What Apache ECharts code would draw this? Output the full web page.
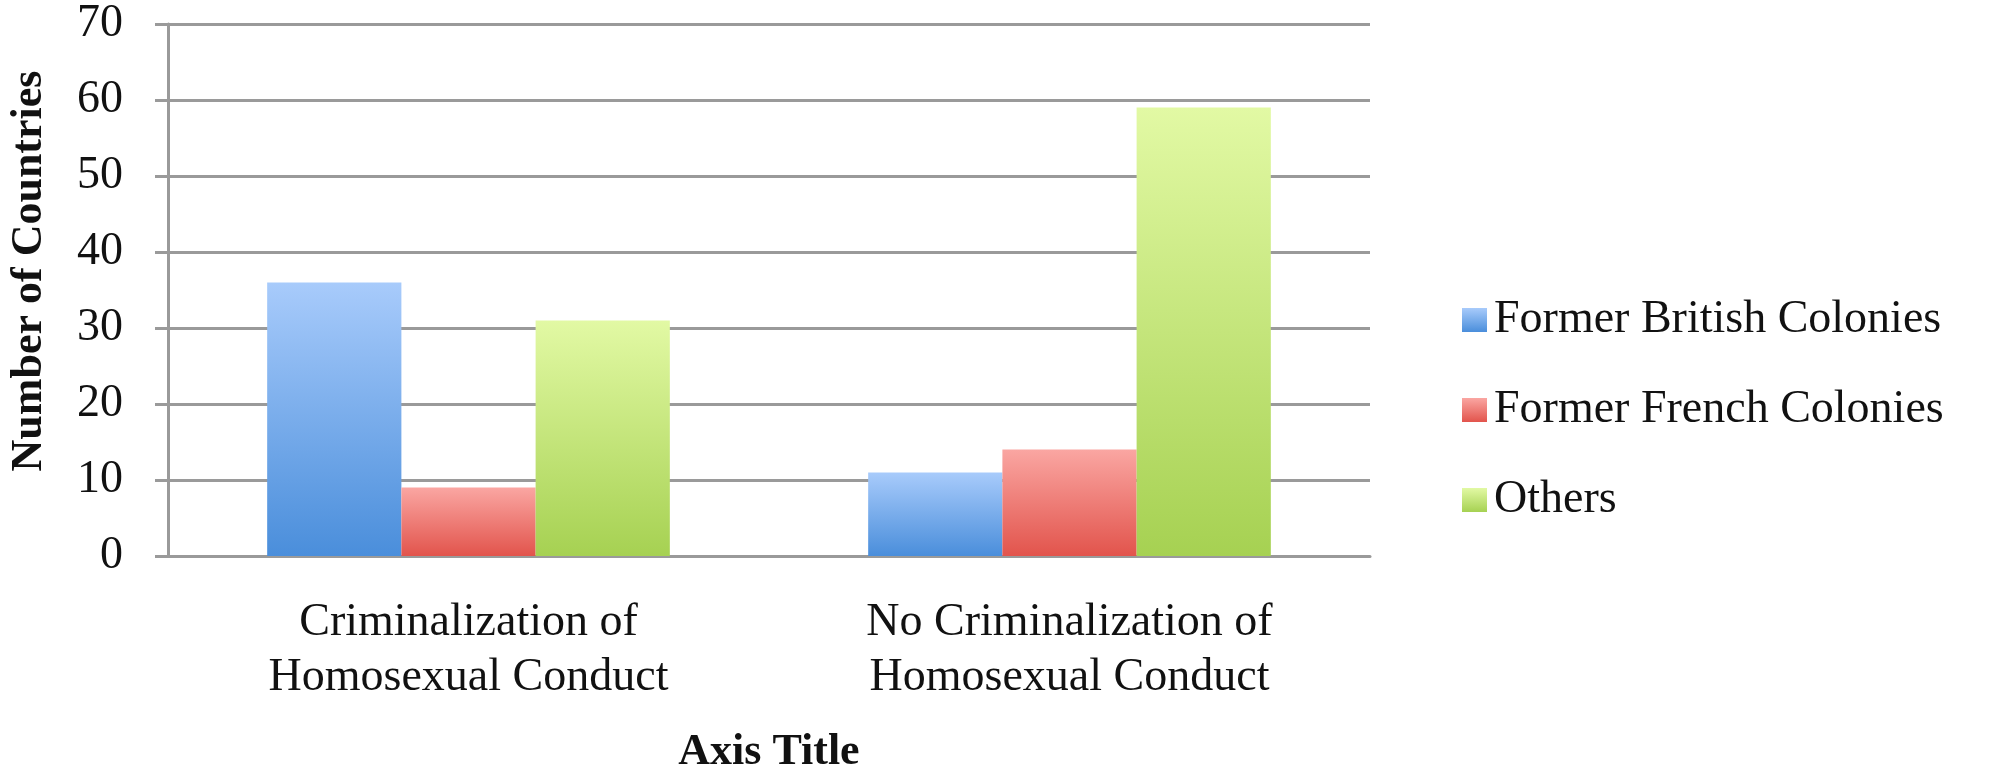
<!DOCTYPE html>
<html>
<head>
<meta charset="utf-8">
<script src="https://cdn.jsdelivr.net/npm/echarts@6/dist/echarts.min.js"></script>
<style>
html,body{margin:0;padding:0;background:#fff;}
#chart{width:1990px;height:765px;}
</style>
</head>
<body>
<div id="chart"></div>
<script>
// 数据
const categories = ['Criminalization of\nHomosexual Conduct', 'No Criminalization of\nHomosexual Conduct'];
const seriesNames = ['Former British Colonies', 'Former French Colonies', 'Others'];
const british = [36, 11];
const french = [9, 14];
const others = [31, 59];
const yTicks = [0, 10, 20, 30, 40, 50, 60, 70];

const font = '"Liberation Serif", "DejaVu Serif", serif';

function grad(top, bottom) {
    return new echarts.graphic.LinearGradient(0, 0, 0, 1, [
        { offset: 0, color: top },
        { offset: 1, color: bottom }
    ]);
}

let chart = echarts.init(document.getElementById('chart'));
chart.setOption({
    animation: false,
    backgroundColor: '#fff',
    grid: { left: 168, right: 620, top: 24, bottom: 209, outerBoundsMode: 'none', containLabel: false },
    legend: {
        orient: 'vertical',
        left: 1457,
        top: 292,
        itemWidth: 25,
        itemHeight: 24,
        itemGap: 44,
        icon: 'rect',
        data: seriesNames,
        textStyle: { fontFamily: font, fontSize: 46, lineHeight: 46, color: '#111', padding: [0, 0, 0, 2] }
    },
    xAxis: {
        type: 'category',
        data: categories,
        name: 'Axis Title',
        nameLocation: 'middle',
        nameGap: 175,
        nameTextStyle: { fontFamily: font, fontSize: 44, fontWeight: 'bold', color: '#111' },
        axisLine: { lineStyle: { color: '#9a9a9a', width: 3 } },
        axisTick: { show: false },
        axisLabel: { fontFamily: font, fontSize: 46, lineHeight: 55, color: '#111', margin: 39 }
    },
    yAxis: {
        type: 'value',
        min: yTicks[0],
        max: yTicks[yTicks.length - 1],
        interval: 10,
        axisLine: { show: true, lineStyle: { color: '#9a9a9a', width: 3 } },
        axisTick: { show: true, length: 13, lineStyle: { color: '#9a9a9a', width: 3 } },
        splitLine: { lineStyle: { color: '#9a9a9a', width: 3 } },
        axisLabel: { fontFamily: font, fontSize: 46, color: '#111', margin: 45, padding: [7, 0, 0, 0] }
    },
    graphic: [{
        type: 'text',
        x: 30,
        y: 271,
        rotation: Math.PI / 2,
        style: {
            text: 'Number of Countries',
            fontFamily: font,
            fontSize: 44,
            fontWeight: 'bold',
            fill: '#111',
            align: 'center',
            verticalAlign: 'middle'
        }
    }],
    series: [
        {
            name: seriesNames[0], type: 'bar', data: british,
            barGap: '0%', barCategoryGap: '33%',
            itemStyle: { color: grad('#a8cbfb', '#4a8edb') }
        },
        {
            name: seriesNames[1], type: 'bar', data: french,
            itemStyle: { color: grad('#faa6a2', '#e2544c') }
        },
        {
            name: seriesNames[2], type: 'bar', data: others,
            itemStyle: { color: grad('#e2f9a4', '#a6d152') }
        }
    ]
});
</script>
</body>
</html>
